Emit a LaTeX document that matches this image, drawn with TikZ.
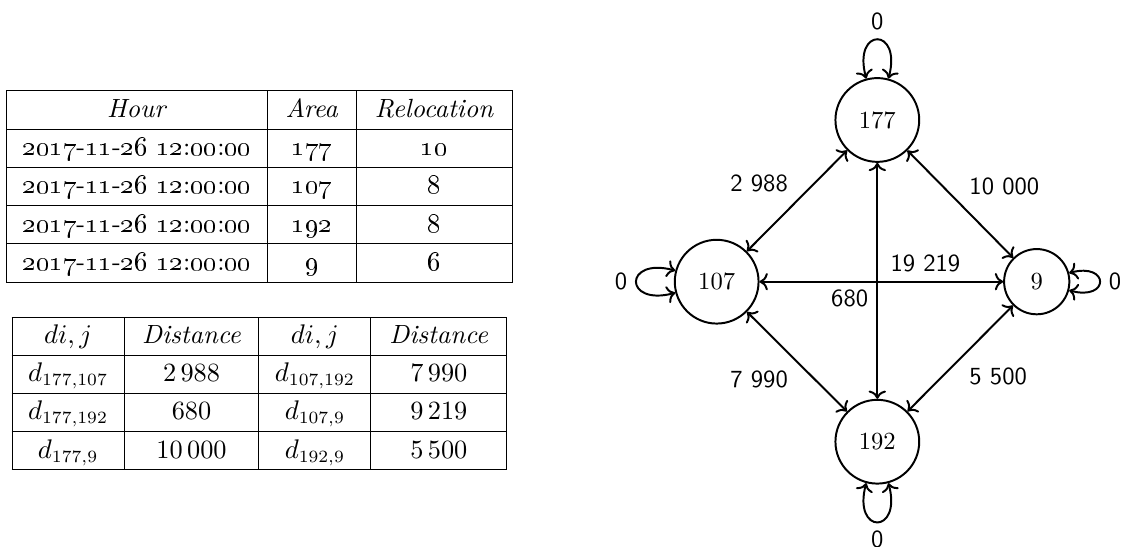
\documentclass[tikz,border=0pt]{standalone}
\usepackage{tikz}
\usetikzlibrary{shapes,arrows.meta,positioning,calc}
\usepackage{array}
\usepackage{amsmath,amssymb}

\newcolumntype{C}[1]{>{\centering\arraybackslash}p{#1}}
\newcommand{\hourstamp}{\oldstylenums{2017}-\oldstylenums{11}-\oldstylenums{26} \oldstylenums{12}:\oldstylenums{00}:\oldstylenums{00}}
\newcommand{\tablefont}{\fontsize{10.7}{13}\selectfont}

\begin{document}
\begin{tikzpicture}[
    area/.style={circle, draw, thick, inner sep=6.4pt},
    link/.style={thick, <->},
    dist/.style={font=\sffamily},
    every loop/.style={looseness=6.2, min distance=0pt}
  ]
  \useasboundingbox (0,0) rectangle (16.014,-7.8);

  % relocation table
  \node[inner sep=0pt, font=\tablefont] (reloc) at (3.707,-2.664) {%
    \renewcommand{\arraystretch}{1.166}%
    \begin{tabular}{|C{3.29cm}|C{0.834cm}|C{1.79cm}|}
      \hline
      \textit{Hour} & \textit{Area} & \textit{Relocation} \\ \hline
      \hourstamp & \oldstylenums{177} & \oldstylenums{10} \\ \hline
      \hourstamp & \oldstylenums{107} & \oldstylenums{8} \\ \hline
      \hourstamp & \oldstylenums{192} & \oldstylenums{8} \\ \hline
      \hourstamp & \oldstylenums{9} & \oldstylenums{6} \\ \hline
    \end{tabular}};

  % distance table
  \node[inner sep=0pt, font=\tablefont] (dists) at (3.707,-5.621) {%
    \renewcommand{\arraystretch}{1.16}%
    \begin{tabular}{|C{1.163cm}|C{1.491cm}|C{1.163cm}|C{1.506cm}|}
      \hline
      $di,j$ & \textit{Distance} & $di,j$ & \textit{Distance} \\ \hline
      $d_{177,107}$ & 2\,988 & $d_{107,192}$ & 7\,990 \\ \hline
      $d_{177,192}$ & 680 & $d_{107,9}$ & 9\,219 \\ \hline
      $d_{177,9}$ & 10\,000 & $d_{192,9}$ & 5\,500 \\ \hline
    \end{tabular}};

  % areas
  \node[area] (a177) at (12.533,-1.714) {177};
  \node[area] (a107) at (10.238,-4.024) {107};
  \node[area] (a9) at (14.810,-4.024) {9};
  \node[area] (a192) at (12.533,-6.310) {192};

  % distances between areas
  \draw[link] (a177) -- node[dist, above left] {2 988} (a107);
  \draw[link] (a177) -- node[dist, above right] {10 000} (a9);
  \draw[link] (a107) -- node[dist, below left] {7 990} (a192);
  \draw[link] (a9) -- node[dist, below right] {5 500} (a192);
  \draw[link] (a107) -- node[dist, above right] {19 219} (a9);
  \draw[link] (a177) -- node[dist, below left] {680} (a192);

  % self loops
  \draw[link] (a177) to[loop above] node[dist, above] {0} (a177);
  \draw[link] (a107) to[loop left] node[dist, left] {0} (a107);
  \draw[link] (a9) to[loop right] node[dist, right] {0} (a9);
  \draw[link] (a192) to[loop below] node[dist, below] {0} (a192);
\end{tikzpicture}
\end{document}
